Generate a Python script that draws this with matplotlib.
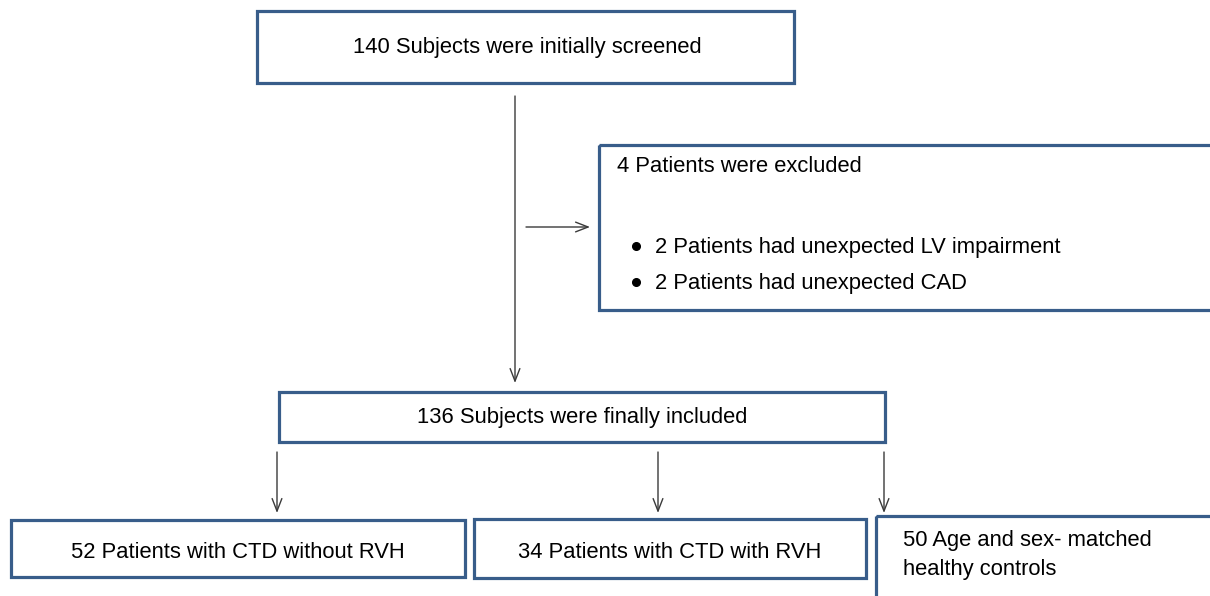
import matplotlib.pyplot as plt
from matplotlib.patches import Rectangle

plt.rcParams['font.family'] = ['Liberation Sans', 'DejaVu Sans']

# ---- flow chart content ----
screened = "140 Subjects were initially screened"
excluded_title = "4 Patients were excluded"
excluded_reasons = ["2 Patients had unexpected LV impairment",
                    "2 Patients had unexpected CAD"]
included = "136 Subjects were finally included"
groups = ["52 Patients with CTD without RVH",
          "34 Patients with CTD with RVH",
          "50 Age and sex- matched\nhealthy controls"]

EDGE = "#385D8A"
ARROW = "#3a3a3a"
FS = 15.8

fig = plt.figure(figsize=(12.1, 5.96), dpi=100)
ax = fig.add_axes([0, 0, 1, 1])
ax.set_xlim(0, 1210)
ax.set_ylim(596, 0)
ax.axis('off')


def box(x0, y0, x1, y1):
    ax.add_patch(Rectangle((x0, y0), x1 - x0, y1 - y0, fill=False,
                           edgecolor=EDGE, linewidth=2.3, clip_on=True))


def arrow(x0, y0, x1, y1):
    ax.annotate("", xy=(x1, y1), xytext=(x0, y0),
                arrowprops=dict(arrowstyle="->,head_length=0.9,head_width=0.35",
                                color=ARROW, lw=1.0, shrinkA=0, shrinkB=0))


# top box
box(257, 11, 794, 83)
ax.text(527, 47, screened, ha='center', va='center', fontsize=FS)

# exclusion box (runs off the right edge)
box(599, 145, 1215, 310)
ax.text(617, 167, excluded_title, ha='left', va='center', fontsize=FS)
for i, reason in enumerate(excluded_reasons):
    y = 247 + 36 * i
    ax.plot(636, y - 1, 'o', color='black', markersize=5.5)
    ax.text(655, y, reason, ha='left', va='center', fontsize=FS)

# included box
box(279, 392, 885, 442)
ax.text(582, 418, included, ha='center', va='center', fontsize=FS)

# arrows
arrow(515, 96, 515, 383)
arrow(526, 227, 590, 227)
for x in [277, 658, 884]:
    arrow(x, 452, x, 513)

# group boxes
box(11, 520, 465, 577)
ax.text(238, 552, groups[0], ha='center', va='center', fontsize=FS)
box(474, 519, 866, 578)
ax.text(670, 552, groups[1], ha='center', va='center', fontsize=FS)
box(876, 516, 1215, 600)
ax.text(903, 555, groups[2], ha='left', va='center', fontsize=FS,
        linespacing=1.45)

fig.savefig("out.png", dpi=100)
